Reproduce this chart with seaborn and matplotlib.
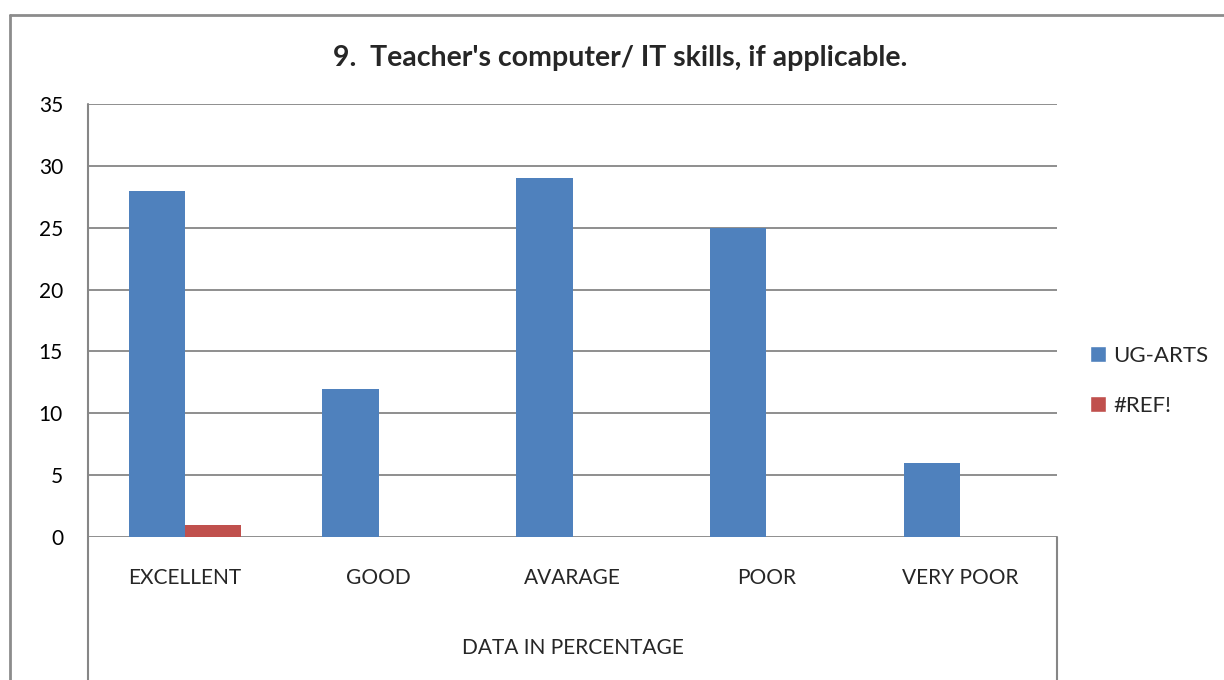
import seaborn as sns
import matplotlib
matplotlib.use('Agg')
import matplotlib.pyplot as plt
import matplotlib.transforms as mtransforms
import pandas as pd
from matplotlib.lines import Line2D
from matplotlib.patches import Patch

categories = ['EXCELLENT', 'GOOD', 'AVARAGE', 'POOR', 'VERY POOR']
ug_arts = [28, 12, 29, 25, 6]
ref_err = [1, 0, 0, 0, 0]
series_names = ['UG-ARTS', '#REF!']
y_ticks = [0, 5, 10, 15, 20, 25, 30, 35]

df = pd.DataFrame({
    'category': categories * 2,
    'value': ug_arts + ref_err,
    'series': [series_names[0]] * len(categories) + [series_names[1]] * len(categories),
})

colors = {'UG-ARTS': '#4F81BD', '#REF!': '#C0504D'}
grid_col = '#868686'

sns.set_theme(style='white')
plt.rcParams['font.family'] = ['Lato', 'DejaVu Sans']

fig = plt.figure(figsize=(12.24, 6.8), dpi=100)
W, H = 1224, 680
ax = fig.add_axes([88 / W, 1 - 537 / H, (1057 - 88) / W, (537 - 104) / H])

sns.barplot(data=df, x='category', y='value', hue='series', palette=colors,
            width=0.58, saturation=1, linewidth=0, ax=ax, legend=False)

ax.set_ylim(0, 35)
ax.set_yticks(y_ticks)
ax.set_xlim(-0.5, 4.5)
ax.yaxis.grid(True, color=grid_col, linewidth=1.3)
ax.set_axisbelow(True)
for s in ax.spines.values():
    s.set_visible(False)
ax.tick_params(axis='y', length=0, pad=18, labelsize=15, colors='black')
ax.set_xticks([])
ax.set_xlabel('')
ax.set_ylabel('')

# category labels below the axis (x in data units, y in figure units)
cat_trans = mtransforms.blended_transform_factory(ax.transData, fig.transFigure)
for i, c in enumerate(categories):
    ax.text(i, 1 - 578 / H, c, transform=cat_trans, ha='center', va='center',
            fontsize=15, clip_on=False)

fig.text((88 + 1057) / 2 / W, 1 - 648 / H, 'DATA IN PERCENTAGE', ha='center', va='center',
         fontsize=15)

# axis line and category box lines
fig.add_artist(Line2D([88 / W, 88 / W], [1 - 104 / H, 0], color=grid_col, linewidth=1.5))
fig.add_artist(Line2D([1057 / W, 1057 / W], [1 - 537 / H, 0], color=grid_col, linewidth=1.5))

# outer chart border (top and left)
fig.add_artist(Line2D([10 / W, 1.0], [1 - 15 / H, 1 - 15 / H], color='#8c8c8c', linewidth=2))
fig.add_artist(Line2D([10 / W, 10 / W], [1 - 15 / H, 0], color='#8c8c8c', linewidth=2))

fig.text(620 / W, 1 - 58 / H, "9.  Teacher's computer/ IT skills, if applicable.",
         ha='center', va='center', fontsize=20.5, fontweight='bold')

handles = [Patch(facecolor=colors[n], label=n) for n in series_names]
fig.legend(handles=handles, loc='center left', bbox_to_anchor=(1090 / W, 1 - 381 / H),
           frameon=False, fontsize=16, handlelength=0.7, handleheight=0.7,
           handletextpad=0.35, labelspacing=1.35, borderpad=0, borderaxespad=0)

fig.savefig('out.png', dpi=100)
